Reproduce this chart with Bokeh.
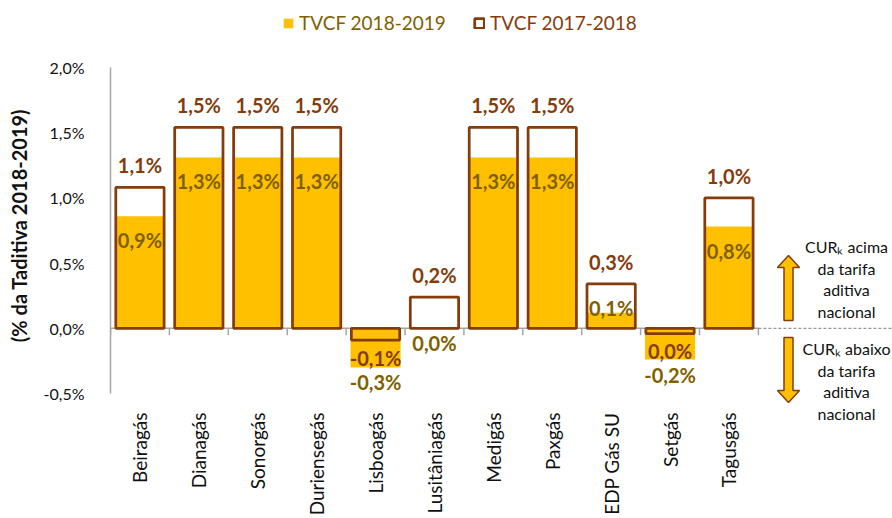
import numpy as np
from bokeh.plotting import figure
from bokeh.models import (Range1d, FixedTicker, CustomJSTickFormatter, Legend,
                          LegendItem, ColumnDataSource, Label)
from bokeh.core.properties import value
from bokeh.embed import file_html
from bokeh.resources import INLINE

# ---------------- data ----------------
categories = ["Beiragás", "Dianagás", "Sonorgás", "Duriensegás", "Lisboagás",
              "Lusitâniagás", "Medigás", "Paxgás", "EDP Gás SU", "Setgás", "Tagusgás"]
tvcf_2018_2019 = [0.86, 1.31, 1.31, 1.31, -0.30, 0.0, 1.31, 1.31, 0.12, -0.24, 0.78]
tvcf_2017_2018 = [1.08, 1.54, 1.54, 1.54, -0.09, 0.24, 1.54, 1.54, 0.34, -0.04, 1.00]
y_ticks = [-0.5, 0.0, 0.5, 1.0, 1.5, 2.0]
series_names = ["TVCF 2018-2019", "TVCF 2017-2018"]
upper_note = ["CURₖ acima", "da tarifa", "aditiva", "nacional"]
lower_note = ["CURₖ abaixo", "da tarifa", "aditiva", "nacional"]

# ---------------- style / layout ----------------
YELLOW = "#FFC000"
BROWN = "#843C0C"
OLIVE = "#7F6000"
AXIS = "#A6A6A6"
TXT = "#111111"
FONT = "Lato"

W, H = 892, 518
LEFT = 110            # frame left edge (px)
FRAME_BOTTOM = 450    # frame bottom edge (px)
Y_TOP_PX, Y_BOT_PX = 67, 393   # pixel rows of the 2,0% and -0,5% gridlines
BOTTOM = H - FRAME_BOTTOM
frame_w = W - LEFT
cat_px = 58.9
n = len(categories)
y_lo, y_hi = y_ticks[0], y_ticks[-1]
ppu = (Y_BOT_PX - Y_TOP_PX) / (y_hi - y_lo)      # pixels per 1 %
x_start = -0.5
x_end = x_start + frame_w / cat_px
y_end = y_hi + Y_TOP_PX / ppu
y_start = y_lo - (FRAME_BOTTOM - Y_BOT_PX) / ppu


def xd(px):  # pixel column -> data x
    return x_start + (px - LEFT) / cat_px


def yd(py):  # pixel row -> data y
    return y_end - py / ppu


def fmt(v):
    return f"{round(v, 1) + 0.0:.1f}".replace(".", ",") + "%"


v19 = np.array(tvcf_2018_2019)
v18 = np.array(tvcf_2017_2018)
lab19_y = np.where(v19 > 0, np.maximum(v19 - 24 / ppu, 20 / ppu), v19 - 15 / ppu)
lab18_y = np.where(v18 > 0, v18 + 22 / ppu, v18 - 17.5 / ppu)

src = ColumnDataSource(dict(
    x=np.arange(n), v19=v19, v18=v18,
    lab19=[fmt(v) for v in v19], lab18=[fmt(v) for v in v18],
    lab19_y=lab19_y, lab18_y=lab18_y,
))

p = figure(width=W, height=H, x_range=Range1d(x_start, x_end),
           y_range=Range1d(y_start, y_end), output_backend="svg",
           toolbar_location=None, min_border_left=LEFT, min_border_right=0,
           min_border_top=0, min_border_bottom=BOTTOM)
p.outline_line_color = None
p.grid.visible = False

# zero line + category tick marks + dashed extension
bounds = np.arange(n + 1) - 0.5
p.segment(x0=[bounds[0]], y0=[0], x1=[bounds[-1]], y1=[0], line_color=AXIS, line_width=1.5)
p.segment(x0=bounds, y0=np.zeros(n + 1), x1=bounds, y1=np.full(n + 1, -7 / ppu),
          line_color=AXIS, line_width=1.5)
p.segment(x0=[bounds[-1]], y0=[0], x1=[x_end], y1=[0], line_color="#7F7F7F",
          line_width=1, line_dash="3 2")

yellow = p.vbar(x="x", top="v19", bottom=0, width=0.85, fill_color=YELLOW,
                line_color=None, source=src)
outline = p.vbar(x="x", top="v18", bottom=0, width=0.82, fill_color=None,
                 line_color=BROWN, line_width=2.75, source=src)

p.text(x="x", y="lab19_y", text="lab19", source=src, text_align="center",
       text_baseline="middle", text_font=value(FONT), text_font_style="bold",
       text_font_size="20px", text_color=OLIVE)
p.text(x="x", y="lab18_y", text="lab18", source=src, text_align="center",
       text_baseline="middle", text_font=value(FONT), text_font_style="bold",
       text_font_size="20px", text_color=BROWN)

# axes
p.yaxis.ticker = FixedTicker(ticks=y_ticks)
p.yaxis.bounds = (y_lo, y_hi)
p.yaxis.formatter = CustomJSTickFormatter(code="return tick.toFixed(1).replace('.', ',') + '%';")
p.yaxis.axis_line_color = AXIS
p.yaxis.axis_line_width = 1.5
p.yaxis.major_tick_line_color = None
p.yaxis.minor_tick_line_color = None
p.yaxis.major_tick_out = 0
p.yaxis.major_label_standoff = 26
p.yaxis.major_label_text_font = FONT
p.yaxis.major_label_text_font_size = "16px"
p.yaxis.major_label_text_color = TXT
p.yaxis.axis_label = "(% da Taditiva 2018-2019)"
p.yaxis.axis_label_text_font = FONT
p.yaxis.axis_label_text_font_style = "bold"
p.yaxis.axis_label_text_font_size = "20px"
p.yaxis.axis_label_text_color = TXT
p.yaxis.axis_label_standoff = 10

p.xaxis.ticker = FixedTicker(ticks=list(range(n)))
p.xaxis.formatter = CustomJSTickFormatter(args=dict(names=categories),
                                          code="return names[Math.round(tick)] || '';")
p.xaxis.major_label_orientation = np.pi / 2
p.xaxis.axis_line_color = None
p.xaxis.major_tick_line_color = None
p.xaxis.minor_tick_line_color = None
p.xaxis.major_tick_out = 0
p.xaxis.major_label_standoff = 412 - FRAME_BOTTOM
p.xaxis.major_label_text_font = FONT
p.xaxis.major_label_text_font_size = "19px"
p.xaxis.major_label_text_color = TXT

# legends (two, each with its own text colour); location = bottom-left corner
for name, rend, col, lx in [(series_names[0], yellow, OLIVE, 282),
                            (series_names[1], outline, BROWN, 473)]:
    leg = Legend(items=[LegendItem(label=name, renderers=[rend])],
                 location=(lx - LEFT, FRAME_BOTTOM - 34), padding=0, margin=0,
                 border_line_color=None, background_fill_alpha=0,
                 glyph_width=12, glyph_height=12, label_standoff=5,
                 label_height=22,
                 label_text_font=FONT, label_text_font_size="19px",
                 label_text_color=col)
    p.add_layout(leg)


# arrows
def arrow(cx, tip, base, up):
    hw, sw, hl = 11, 4.5, 12
    s = -1 if up else 1
    hb = tip - s * hl
    xs = [cx, cx + hw, cx + sw, cx + sw, cx - sw, cx - sw, cx - hw]
    ys = [tip, hb, hb, base, base, hb, hb]
    p.patch([xd(v) for v in xs], [yd(v) for v in ys], fill_color=YELLOW,
            line_color=BROWN, line_width=1.5)


arrow(788, 255, 320, True)
arrow(788, 402, 337, False)

for lines, y0 in [(upper_note, 246), (lower_note, 348)]:
    for i, t in enumerate(lines):
        p.add_layout(Label(x=xd(846), y=yd(y0 + i * 21.7), text=t, text_align="center",
                           text_baseline="middle", text_font=FONT,
                           text_font_size="16px", text_color=TXT))

open("out.html", "w").write(file_html(p, INLINE))
